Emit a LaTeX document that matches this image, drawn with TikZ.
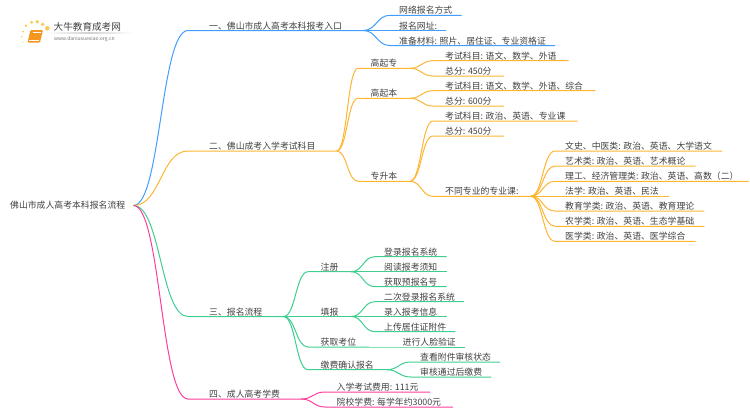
\documentclass[tikz,border=0pt]{standalone}
\usepackage{fontspec}
\setmainfont{Noto Sans CJK SC}
\usetikzlibrary{calc}
\definecolor{blueline}{RGB}{64,158,255}
\definecolor{orangeline}{RGB}{253,181,50}
\definecolor{greenline}{RGB}{62,207,142}
\definecolor{pinkline}{RGB}{255,61,154}
\definecolor{booktone}{RGB}{245,150,30}
\definecolor{dottone}{RGB}{250,200,90}
\tikzset{
	branch/.style={to path={let \p1=(\tikztostart),\p2=(\tikztotarget) in .. controls ({(\x1+\x2)/2},\y1) and ({(\x1+\x2)/2},\y2) .. (\p2)}},
	topic/.style={anchor=south west,text=black!75,inner ysep=0pt,text height=8pt,text depth=1.2pt,font=\fontsize{8.85}{10}\selectfont},
	rootnode/.style={topic,anchor=west,inner xsep=8pt},
	first/.style={topic,inner xsep=21pt},
	second/.style={topic,inner xsep=12.5pt},
	third/.style={topic,inner xsep=9pt},
	bluelink/.style={draw=blueline,line width=1pt},
	orangelink/.style={draw=orangeline,line width=1pt},
	greenlink/.style={draw=greenline,line width=1pt},
	pinklink/.style={draw=pinkline,line width=1pt}
}
\begin{document}
\begin{tikzpicture}[x=1pt,y=-1pt]
	\useasboundingbox (0,0) rectangle (750,410);
	% logo
	\fill[booktone,rounded corners=1pt] (30.5,30) -- (43,30) -- (40,42.5) -- (27.5,42.5) -- cycle;
	\draw[white,line width=.5pt] (33,32.5) -- (40.5,32.5) (29,40) -- (38.5,40);
	\foreach \px/\py/\rad in {21.7/36.7/.8,23/31.7/1,26/25.7/1.3,31.7/22.3/1.6,37.3/21.7/1.9,42.7/24.3/1.9,47.3/28.3/2.3,23/42/.7} \fill[dottone] (\px,\py) circle (\rad);
	\node[topic,inner sep=0pt,font=\fontsize{9.6}{10}\selectfont] (logotitle) at (53.5,32) {大牛教育成考网};
	\node[topic,inner sep=0pt,text=black!55,text height=4pt,text depth=1pt,font=\fontsize{5}{6}\selectfont] (logourl) at (54,41.5) {www.daniuxuexiao.org.cn};
	\shade[left color=white,right color=white,middle color=black!18] (45,32.8) rectangle (133,33.4);

	\node[rootnode] (root) at (2,205.5) {佛山市成人高考本科报名流程};

	\node[first] (one) at (188,30.5) {一、佛山市成人高考本科报考入口};
	\node[third] (oneA) at (390,15.3) {网络报名方式};
	\node[third] (oneB) at (390,30.5) {报名网址:};
	\node[third] (oneC) at (390,45.5) {准备材料: 照片、居住证、专业资格证};

	\node[first] (two) at (188,151) {二、佛山成考入学考试科目};
	\node[second] (twoA) at (358,68.3) {高起专};
	\node[second] (twoB) at (358,98.3) {高起本};
	\node[second] (twoC) at (358,181.3) {专升本};
	\node[third,inner xsep=12pt] (twoAa) at (433,60.7) {考试科目: 语文、数学、外语};
	\node[third,inner xsep=12pt] (twoAb) at (433,76) {总分: 450分};
	\node[third,inner xsep=12pt] (twoBa) at (433,90.7) {考试科目: 语文、数学、外语、综合};
	\node[third,inner xsep=12pt] (twoBb) at (433,106) {总分: 600分};
	\node[third,inner xsep=12pt] (twoCa) at (433,121) {考试科目: 政治、英语、专业课};
	\node[third,inner xsep=12pt] (twoCb) at (433,136) {总分: 450分};
	\node[third,inner xsep=12pt] (twoCc) at (433,196.3) {不同专业的专业课:};
	\node[third,inner xsep=10pt] (majorA) at (555,151) {文史、中医类: 政治、英语、大学语文};
	\node[third,inner xsep=10pt] (majorB) at (555,166) {艺术类: 政治、英语、艺术概论};
	\node[third,inner xsep=10pt] (majorC) at (555,181.3) {理工、经济管理类: 政治、英语、高数（二）};
	\node[third,inner xsep=10pt] (majorD) at (555,196.3) {法学: 政治、英语、民法};
	\node[third,inner xsep=10pt] (majorE) at (555,211) {教育学类: 政治、英语、教育理论};
	\node[third,inner xsep=10pt] (majorF) at (555,226.3) {农学类: 政治、英语、生态学基础};
	\node[third,inner xsep=10pt] (majorG) at (555,241.3) {医学类: 政治、英语、医学综合};

	\node[first] (three) at (188,316.5) {三、报名流程};
	\node[second] (threeA) at (308,271.7) {注册};
	\node[second] (threeB) at (308,316.5) {填报};
	\node[second] (threeC) at (308,347) {获取考位};
	\node[second] (threeD) at (308,369.7) {缴费确认报名};
	\node[third] (threeAa) at (375,256.7) {登录报名系统};
	\node[third] (threeAb) at (375,271.7) {阅读报考须知};
	\node[third] (threeAc) at (375,286.7) {获取预报名号};
	\node[third] (threeBa) at (375,301.7) {二次登录报名系统};
	\node[third] (threeBb) at (375,316.5) {录入报考信息};
	\node[third] (threeBc) at (375,331.7) {上传居住证附件};
	\node[third] (threeCa) at (393.5,347) {进行人脸验证};
	\node[third] (threeDa) at (411,362) {查看附件审核状态};
	\node[third] (threeDb) at (411,377) {审核通过后缴费};

	\node[first] (four) at (188,399) {四、成人高考学费};
	\node[third,inner xsep=11.5pt] (fourA) at (325,392) {入学考试费用: 111元};
	\node[third,inner xsep=11.5pt] (fourB) at (325,407) {院校学费: 每学年约3000元};

	\foreach \kid in {oneA,oneB,oneC} \draw[bluelink] (one.south east) to[branch] (\kid.south west) -- (\kid.south east);
	\foreach \kid/\mum in {twoA/two,twoB/two,twoC/two,twoAa/twoA,twoAb/twoA,twoBa/twoB,twoBb/twoB,twoCa/twoC,twoCb/twoC,twoCc/twoC,majorA/twoCc,majorB/twoCc,majorC/twoCc,majorD/twoCc,majorE/twoCc,majorF/twoCc,majorG/twoCc} \draw[orangelink] (\mum.south east) to[branch] (\kid.south west) -- (\kid.south east);
	\foreach \kid/\mum in {threeA/three,threeB/three,threeC/three,threeD/three,threeAa/threeA,threeAb/threeA,threeAc/threeA,threeBa/threeB,threeBb/threeB,threeBc/threeB,threeCa/threeC,threeDa/threeD,threeDb/threeD} \draw[greenlink] (\mum.south east) to[branch] (\kid.south west) -- (\kid.south east);
	\foreach \kid in {fourA,fourB} \draw[pinklink] (four.south east) to[branch] (\kid.south west) -- (\kid.south east);

	\draw[bluelink] (root.east) to[branch] (one.south west) -- (one.south east);
	\draw[orangelink] (root.east) to[branch] (two.south west) -- (two.south east);
	\draw[greenlink] (root.east) to[branch] (three.south west) -- (three.south east);
	\draw[pinklink] (root.east) to[branch] (four.south west) -- (four.south east);
\end{tikzpicture}
\end{document}
